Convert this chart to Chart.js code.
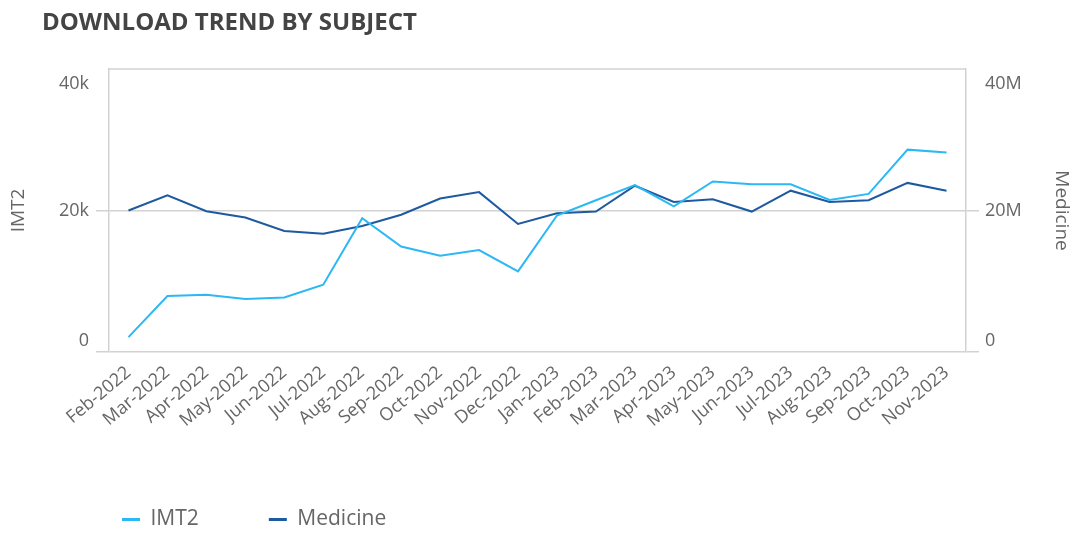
<!DOCTYPE html>
<html>
<head>
<meta charset="utf-8">
<script src="https://cdn.jsdelivr.net/npm/chart.js@4.4.0/dist/chart.umd.min.js"></script>
<style>
  html, body { margin: 0; padding: 0; background: #fff; }
  #wrap { position: relative; width: 1080px; height: 547px; }
  #title { position: absolute; left: 42px; top: 4px; font: bold 24px 'Open Sans'; color: #444; }
</style>
</head>
<body>
<div id="wrap">
  <div id="title">DOWNLOAD TREND BY SUBJECT</div>
  <canvas id="myChart" width="1080" height="547"></canvas>
</div>
<script>
const months = ['Feb-2022', 'Mar-2022', 'Apr-2022', 'May-2022', 'Jun-2022', 'Jul-2022', 'Aug-2022',
  'Sep-2022', 'Oct-2022', 'Nov-2022', 'Dec-2022', 'Jan-2023', 'Feb-2023', 'Mar-2023', 'Apr-2023',
  'May-2023', 'Jun-2023', 'Jul-2023', 'Aug-2023', 'Sep-2023', 'Oct-2023', 'Nov-2023'];

// IMT2 downloads (left axis)
const imt2 = [2100, 7900, 8100, 7500, 7700, 9500, 18900, 14900, 13600, 14400, 11400,
  19300, 21450, 23600, 20600, 24100, 23700, 23700, 21500, 22350, 28600, 28200];

// Medicine downloads (right axis)
const medicine = [20.0e6, 22.15e6, 19.9e6, 19.0e6, 17.1e6, 16.7e6, 17.8e6, 19.4e6, 21.7e6, 22.6e6, 18.1e6,
  19.6e6, 19.85e6, 23.5e6, 21.2e6, 21.6e6, 19.85e6, 22.8e6, 21.2e6, 21.45e6, 23.9e6, 22.8e6];

const leftTicks = [0, 20000, 40000];
const leftTickLabels = ['0', '20k', '40k'];
const rightTicks = [0, 20e6, 40e6];
const rightTickLabels = ['0', '20M', '40M'];

const seriesNames = ['IMT2', 'Medicine'];
const seriesColors = ['#2bb8f4', '#1e5aa0'];

const gridColor = '#d2d2d2';
const textColor = '#666';

// end labels are pushed inside the box, like the original
function tickLabel(values, labels) {
  return function (value) {
    const i = values.indexOf(value);
    if (i === 0) return [labels[i], ''];
    if (i === values.length - 1) return ['', labels[i]];
    return labels[i];
  };
}
function tickFont(values) {
  return function (c) {
    const v = c.tick ? c.tick.value : null;
    let lh = 1.2;
    if (v === values[0]) lh = '22px';
    if (v === values[values.length - 1]) lh = '30px';
    return { family: 'Open Sans', size: 18, lineHeight: lh };
  };
}
function gridFn(values) {
  return function (c) {
    return c.tick && c.tick.value === values[values.length - 1] ? 'rgba(0,0,0,0)' : gridColor;
  };
}

const topBorder = {
  id: 'topBorder',
  beforeDatasetsDraw(chart) {
    const { ctx, chartArea } = chart;
    ctx.save();
    ctx.strokeStyle = gridColor;
    ctx.lineWidth = 1.5;
    ctx.beginPath();
    ctx.moveTo(chartArea.left, chartArea.top);
    ctx.lineTo(chartArea.right, chartArea.top);
    ctx.stroke();
    ctx.restore();
  }
};

const legendShift = {
  id: 'legendShift',
  afterLayout(chart) {
    chart.legend.left = 52;
  }
};

const data = {
  labels: months,
  datasets: [{
    label: seriesNames[0],
    data: imt2,
    borderColor: seriesColors[0],
    backgroundColor: seriesColors[0],
    borderWidth: 2,
    pointRadius: 0,
    tension: 0,
    yAxisID: 'y'
  }, {
    label: seriesNames[1],
    data: medicine,
    borderColor: seriesColors[1],
    backgroundColor: seriesColors[1],
    borderWidth: 2,
    pointRadius: 0,
    tension: 0,
    yAxisID: 'y1'
  }]
};

const config = {
  type: 'line',
  data,
  plugins: [topBorder, legendShift],
  options: {
    responsive: false,
    animation: false,
    layout: { padding: { top: 69, bottom: 7 } },
    plugins: {
      tooltip: { enabled: false },
      legend: {
        position: 'bottom',
        align: 'start',
        labels: {
          boxWidth: 18,
          boxHeight: 3,
          padding: 70,
          color: textColor,
          font: { family: 'Open Sans', size: 21 },
          generateLabels: chart => chart.data.datasets.map((ds, i) => ({
            text: ds.label,
            fillStyle: ds.borderColor,
            strokeStyle: ds.borderColor,
            lineWidth: 0,
            fontColor: textColor,
            datasetIndex: i
          }))
        }
      }
    },
    scales: {
      x: {
        offset: true,
        grid: { display: false },
        border: { display: false },
        ticks: {
          autoSkip: false,
          minRotation: 40,
          maxRotation: 40,
          padding: 2,
          color: textColor,
          font: { family: 'Open Sans', size: 18 }
        },
        afterFit: s => { s.height = 87; }
      },
      y: {
        position: 'left',
        min: leftTicks[0],
        max: leftTicks[leftTicks.length - 1],
        afterBuildTicks: s => { s.ticks = leftTicks.map(v => ({ value: v })); },
        grid: { color: gridFn(leftTicks), lineWidth: 1.5, tickLength: 13 },
        border: { color: gridColor, width: 1.5 },
        ticks: {
          padding: 7,
          color: textColor,
          font: tickFont(leftTicks),
          callback: tickLabel(leftTicks, leftTickLabels)
        },
        title: {
          display: true,
          text: seriesNames[0],
          color: textColor,
          font: { family: 'Open Sans', size: 19 },
          padding: { top: 7, bottom: 0 }
        },
        afterFit: s => { s.width = 109; }
      },
      y1: {
        position: 'right',
        min: rightTicks[0],
        max: rightTicks[rightTicks.length - 1],
        afterBuildTicks: s => { s.ticks = rightTicks.map(v => ({ value: v })); },
        grid: { drawOnChartArea: false, color: gridFn(rightTicks), lineWidth: 1.5, tickLength: 13 },
        border: { color: gridColor, width: 1.5 },
        ticks: {
          padding: 6,
          color: textColor,
          font: tickFont(rightTicks),
          callback: tickLabel(rightTicks, rightTickLabels)
        },
        title: {
          display: true,
          text: seriesNames[1],
          color: textColor,
          font: { family: 'Open Sans', size: 19 },
          padding: { top: 7, bottom: 0 }
        },
        afterFit: s => { s.width = 114; }
      }
    }
  }
};

const myChart = new Chart(document.getElementById('myChart'), config);
</script>
</body>
</html>
